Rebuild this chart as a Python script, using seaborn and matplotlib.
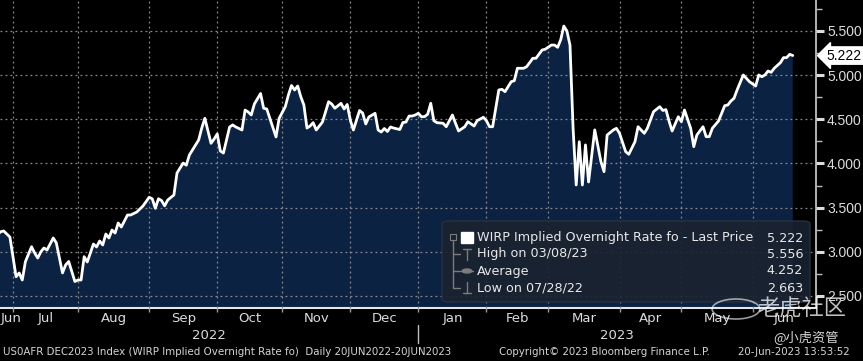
import numpy as np
import pandas as pd
import seaborn as sns
import matplotlib.pyplot as plt
import matplotlib.transforms as mtransforms
from matplotlib.patches import FancyBboxPatch, Rectangle, Circle
from matplotlib.lines import Line2D

# trading day number (0 = 20 Jun 2022) and WIRP implied rate
day = [0, 2, 5, 6, 8, 10, 11, 12, 13, 15, 16, 17, 18, 19, 20, 22, 23, 25, 26, 27,
       29, 30, 31, 32, 33, 35, 36, 37, 38, 39, 40, 41, 42, 43, 44, 46, 47, 49, 51, 53,
       54, 55, 56, 57, 58, 59, 61, 62, 64, 65, 66, 67, 69, 70, 71, 72, 73, 74, 75, 76,
       77, 78, 79, 80, 81, 83, 84, 85, 86, 87, 89, 90, 91, 92, 94, 95, 97, 98, 99, 100,
       101, 102, 103, 104, 105, 106, 107, 109, 111, 112, 113, 115, 116, 117, 118, 119, 121, 122, 123, 124,
       126, 127, 128, 129, 130, 131, 132, 134, 135, 136, 137, 138, 139, 140, 141, 142, 143, 144, 145, 146,
       148, 149, 151, 152, 153, 155, 156, 158, 159, 161, 162, 163, 164, 166, 167, 168, 170, 171, 172, 174,
       175, 177, 178, 180, 181, 183, 184, 185, 186, 187, 188, 189, 190, 191, 192, 193, 194, 195, 196, 197,
       199, 200, 201, 203, 204, 205, 207, 208, 210, 211, 212, 213, 214, 216, 218, 219, 220, 221, 222, 224,
       225, 226, 228, 229, 230, 232, 233, 234, 235, 237, 239, 240, 241, 242, 243, 245, 246, 247, 249, 250,
       251, 252, 253, 254, 255, 257, 258, 259, 260, 261]
rate = [3.15, 3.12, 3.227, 3.235, 3.167, 2.717, 2.76, 2.68, 2.887, 3.057, 2.986, 2.929, 3.0, 3.043, 3.02, 3.156, 3.10, 2.76, 2.85, 2.89,
        2.663, 2.68, 2.68, 2.944, 2.884, 3.088, 3.054, 3.122, 3.077, 3.201, 3.156, 3.246, 3.212, 3.326, 3.28, 3.416, 3.416, 3.45, 3.518, 3.617,
        3.60, 3.492, 3.60, 3.58, 3.52, 3.586, 3.643, 3.892, 4.005, 3.98, 4.096, 4.152, 4.266, 4.401, 4.511, 4.367, 4.228, 4.277, 4.334, 4.141,
        4.118, 4.266, 4.413, 4.436, 4.413, 4.379, 4.605, 4.583, 4.549, 4.673, 4.792, 4.625, 4.617, 4.511, 4.300, 4.511, 4.643, 4.775, 4.883, 4.832,
        4.877, 4.756, 4.662, 4.401, 4.424, 4.462, 4.379, 4.469, 4.699, 4.673, 4.625, 4.681, 4.617, 4.668, 4.492, 4.379, 4.600, 4.571, 4.447, 4.526,
        4.568, 4.379, 4.356, 4.396, 4.362, 4.413, 4.401, 4.384, 4.464, 4.469, 4.537, 4.537, 4.549, 4.568, 4.529, 4.53, 4.557, 4.681, 4.484, 4.462,
        4.455, 4.416, 4.549, 4.455, 4.368, 4.416, 4.473, 4.424, 4.484, 4.523, 4.484, 4.416, 4.416, 4.832, 4.840, 4.813, 4.926, 4.937, 5.078, 5.078,
        5.096, 5.191, 5.191, 5.285, 5.293, 5.341, 5.341, 5.315, 5.40, 5.556, 5.50, 5.34, 4.40, 3.756, 4.246, 3.756, 4.21, 3.79, 4.08, 4.38,
        4.02, 3.907, 4.322, 4.379, 4.398, 4.341, 4.133, 4.104, 4.246, 4.416, 4.379, 4.341, 4.398, 4.586, 4.643, 4.60, 4.61, 4.481, 4.367, 4.529,
        4.473, 4.605, 4.398, 4.19, 4.322, 4.416, 4.303, 4.303, 4.398, 4.481, 4.654, 4.662, 4.707, 4.738, 4.832, 5.002, 4.964, 4.926, 4.877, 5.002,
        4.982, 5.002, 5.047, 5.032, 5.078, 5.141, 5.198, 5.198, 5.236, 5.222]

month_names = ['Jun', 'Jul', 'Aug', 'Sep', 'Oct', 'Nov', 'Dec',
               'Jan', 'Feb', 'Mar', 'Apr', 'May', 'Jun']
years = ['2022', '2023']
y_ticks = [2.5, 3.0, 3.5, 4.0, 4.5, 5.0, 5.5]

legend_rows = [('WIRP Implied Overnight Rate fo - Last Price', '5.222'),
               ('High on 03/08/23', '5.556'),
               ('Average', '4.252'),
               ('Low on 07/28/22', '2.663')]
last_price = 5.222

footer = ['US0AFR DEC2023 Index (WIRP Implied Overnight Rate fo)  Daily 20JUN2022-20JUN2023',
          'Copyright\u00a9 2023 Bloomberg Finance L.P.',
          '20-Jun-2023 13:53:52']

sns.set_style('dark')
plt.rcParams['font.family'] = ['DejaVu Sans', 'Noto Sans CJK SC']

W, H = 863, 361
fig = plt.figure(figsize=(W / 100, H / 100), dpi=100, facecolor='black')
ax = fig.add_axes([0, 53 / H, 816 / W, 308 / H])
ax.set_facecolor('black')

xlim = (4.8, 268.5)
ylim = (2.363, 5.851)

navy = '#0b2243'
ax.fill_between(day, rate, 0, color=navy, lw=0, zorder=1)
sns.lineplot(x=day, y=rate, ax=ax, color='white', lw=2.0, zorder=3)
ax.set_xlim(*xlim)
ax.set_ylim(*ylim)
ax.set_xlabel('')
ax.set_ylabel('')

# trading-day calendar for month boundaries
dates = pd.bdate_range('2022-06-20', '2023-06-20')
month_starts = [i for i in range(1, len(dates)) if dates[i].month != dates[i - 1].month]

# right axis
ax.yaxis.tick_right()
ax.set_yticks(y_ticks)
ax.set_yticklabels(['%.3f' % v for v in y_ticks])
ax.set_yticks(np.arange(2.5, 5.8, 0.25), minor=True)
ax.tick_params(axis='y', which='major', direction='out', length=6, width=2.2,
               colors='#dcdcdc', labelsize=10, pad=2, right=True, left=False)
ax.tick_params(axis='y', which='minor', direction='out', length=4, width=1,
               colors='#bdbdbd', right=True, left=False)
for lab in ax.get_yticklabels():
    lab.set_fontfamily('Liberation Sans')

ax.set_xticks(month_starts)
ax.set_xticklabels([])
ax.tick_params(axis='x', which='major', direction='out', length=3, width=1,
               colors='#9a9a9a', bottom=True)

# dotted grid over the fill, under the line
ax.set_axisbelow(False)
ax.grid(True, which='major', axis='both', color='#8a8a8a', linestyle=(0, (1.5, 2.5)), linewidth=0.9)
ax.grid(False, which='minor')

for s in ['top', 'left']:
    ax.spines[s].set_visible(False)
ax.spines['right'].set_color('#d0d0d0')
ax.spines['right'].set_linewidth(1.2)
ax.spines['bottom'].set_color('#e6e6e6')
ax.spines['bottom'].set_linewidth(1.5)

# month and year labels
trans = mtransforms.blended_transform_factory(ax.transData, ax.transAxes)
bounds = [xlim[0]] + month_starts + [xlim[1]]
for k, name in enumerate(month_names):
    c = (bounds[k] + bounds[k + 1]) / 2
    if k == 0:
        ax.text(xlim[0] + 0.2, -0.033, name, transform=trans, ha='left', va='center',
                color='#dcdcdc', fontsize=9.5)
    else:
        ax.text(c, -0.033, name, transform=trans, ha='center', va='center',
                color='#dcdcdc', fontsize=9.5)
jan = month_starts[6]
for yr, (a, b) in zip(years, [(xlim[0], jan), (jan, xlim[1])]):
    ax.text((a + b) / 2, -0.088, yr, transform=trans, ha='center', va='center',
            color='#dcdcdc', fontsize=9.5)
ax.plot([jan, jan], [-0.055, -0.114], transform=trans, color='#bdbdbd', lw=1, clip_on=False)

# last price tag
ytrans = mtransforms.blended_transform_factory(ax.transAxes, ax.transData)
ax.text(1.013, last_price, '%.3f' % last_price, transform=ytrans, ha='left', va='center',
        fontsize=10, color='black', family='Liberation Sans',
        bbox=dict(boxstyle='larrow,pad=0.12', fc='white', ec='white'))


def fx(px):
    return px / W


def fy(py):
    return 1 - py / H


# legend box
fig.patches.append(FancyBboxPatch((fx(442), fy(302)), fx(810) - fx(442), fy(221) - fy(302),
                                  boxstyle='round,pad=0,rounding_size=0.008',
                                  transform=fig.transFigure, fc='#1a2230', ec='#2a3240',
                                  alpha=0.9, zorder=5))
row_y = [238, 254, 271, 288]
for (lbl, val), ry in zip(legend_rows, row_y):
    fig.text(fx(477), fy(ry), lbl, ha='left', va='center', color='#e8e8e8', fontsize=9.2, zorder=6)
    fig.text(fx(803), fy(ry), val, ha='right', va='center', color='#e8e8e8', fontsize=9.2, zorder=6)
fig.patches.append(Rectangle((fx(461), fy(243)), fx(12), 11 / H, transform=fig.transFigure,
                             fc='white', ec='white', zorder=6))
gray = '#7c7c7c'
fig.patches.append(Rectangle((fx(450), fy(240)), fx(6), 6 / H, transform=fig.transFigure,
                             fc='none', ec=gray, lw=0.8, zorder=6))
tree = [([453, 453], [240, 288]), ([453, 460], [254, 254]), ([453, 460], [271, 271]),
        ([453, 460], [288, 288]),
        ([467, 467], [249, 260]), ([463, 471], [249, 249]),
        ([461, 473], [271, 271]),
        ([467, 467], [282, 293]), ([463, 471], [293, 293])]
for xs, ys in tree:
    fig.lines.append(Line2D([fx(v) for v in xs], [fy(v) for v in ys], transform=fig.transFigure,
                            color=gray, lw=1, zorder=6))
fig.patches.append(Circle((fx(467), fy(271)), 2 / H, transform=fig.transFigure, fc=gray, ec=gray, zorder=6))

# footer
for txt, px in zip(footer, [3, 499, 738]):
    fig.text(fx(px), fy(352), txt, ha='left', va='center', color='#d4d4d4', fontsize=7.4)

# watermark
fig.patches.append(Circle((fx(736), fy(309)), 10 / H, transform=fig.transFigure,
                          fc='none', ec='white', lw=1.2, alpha=0.6, zorder=7))
fig.text(fx(757), fy(309), '老虎社区', ha='left', va='center', color='white', alpha=0.75,
         fontsize=16, family=['Noto Sans CJK SC', 'DejaVu Sans'], zorder=7)
fig.text(fx(773), fy(338), '@小虎资管', ha='left', va='center', color='#d8d8d8',
         fontsize=9.5, family=['Noto Sans CJK SC', 'DejaVu Sans'], zorder=7)

fig.savefig('out.png', dpi=100, facecolor='black')
